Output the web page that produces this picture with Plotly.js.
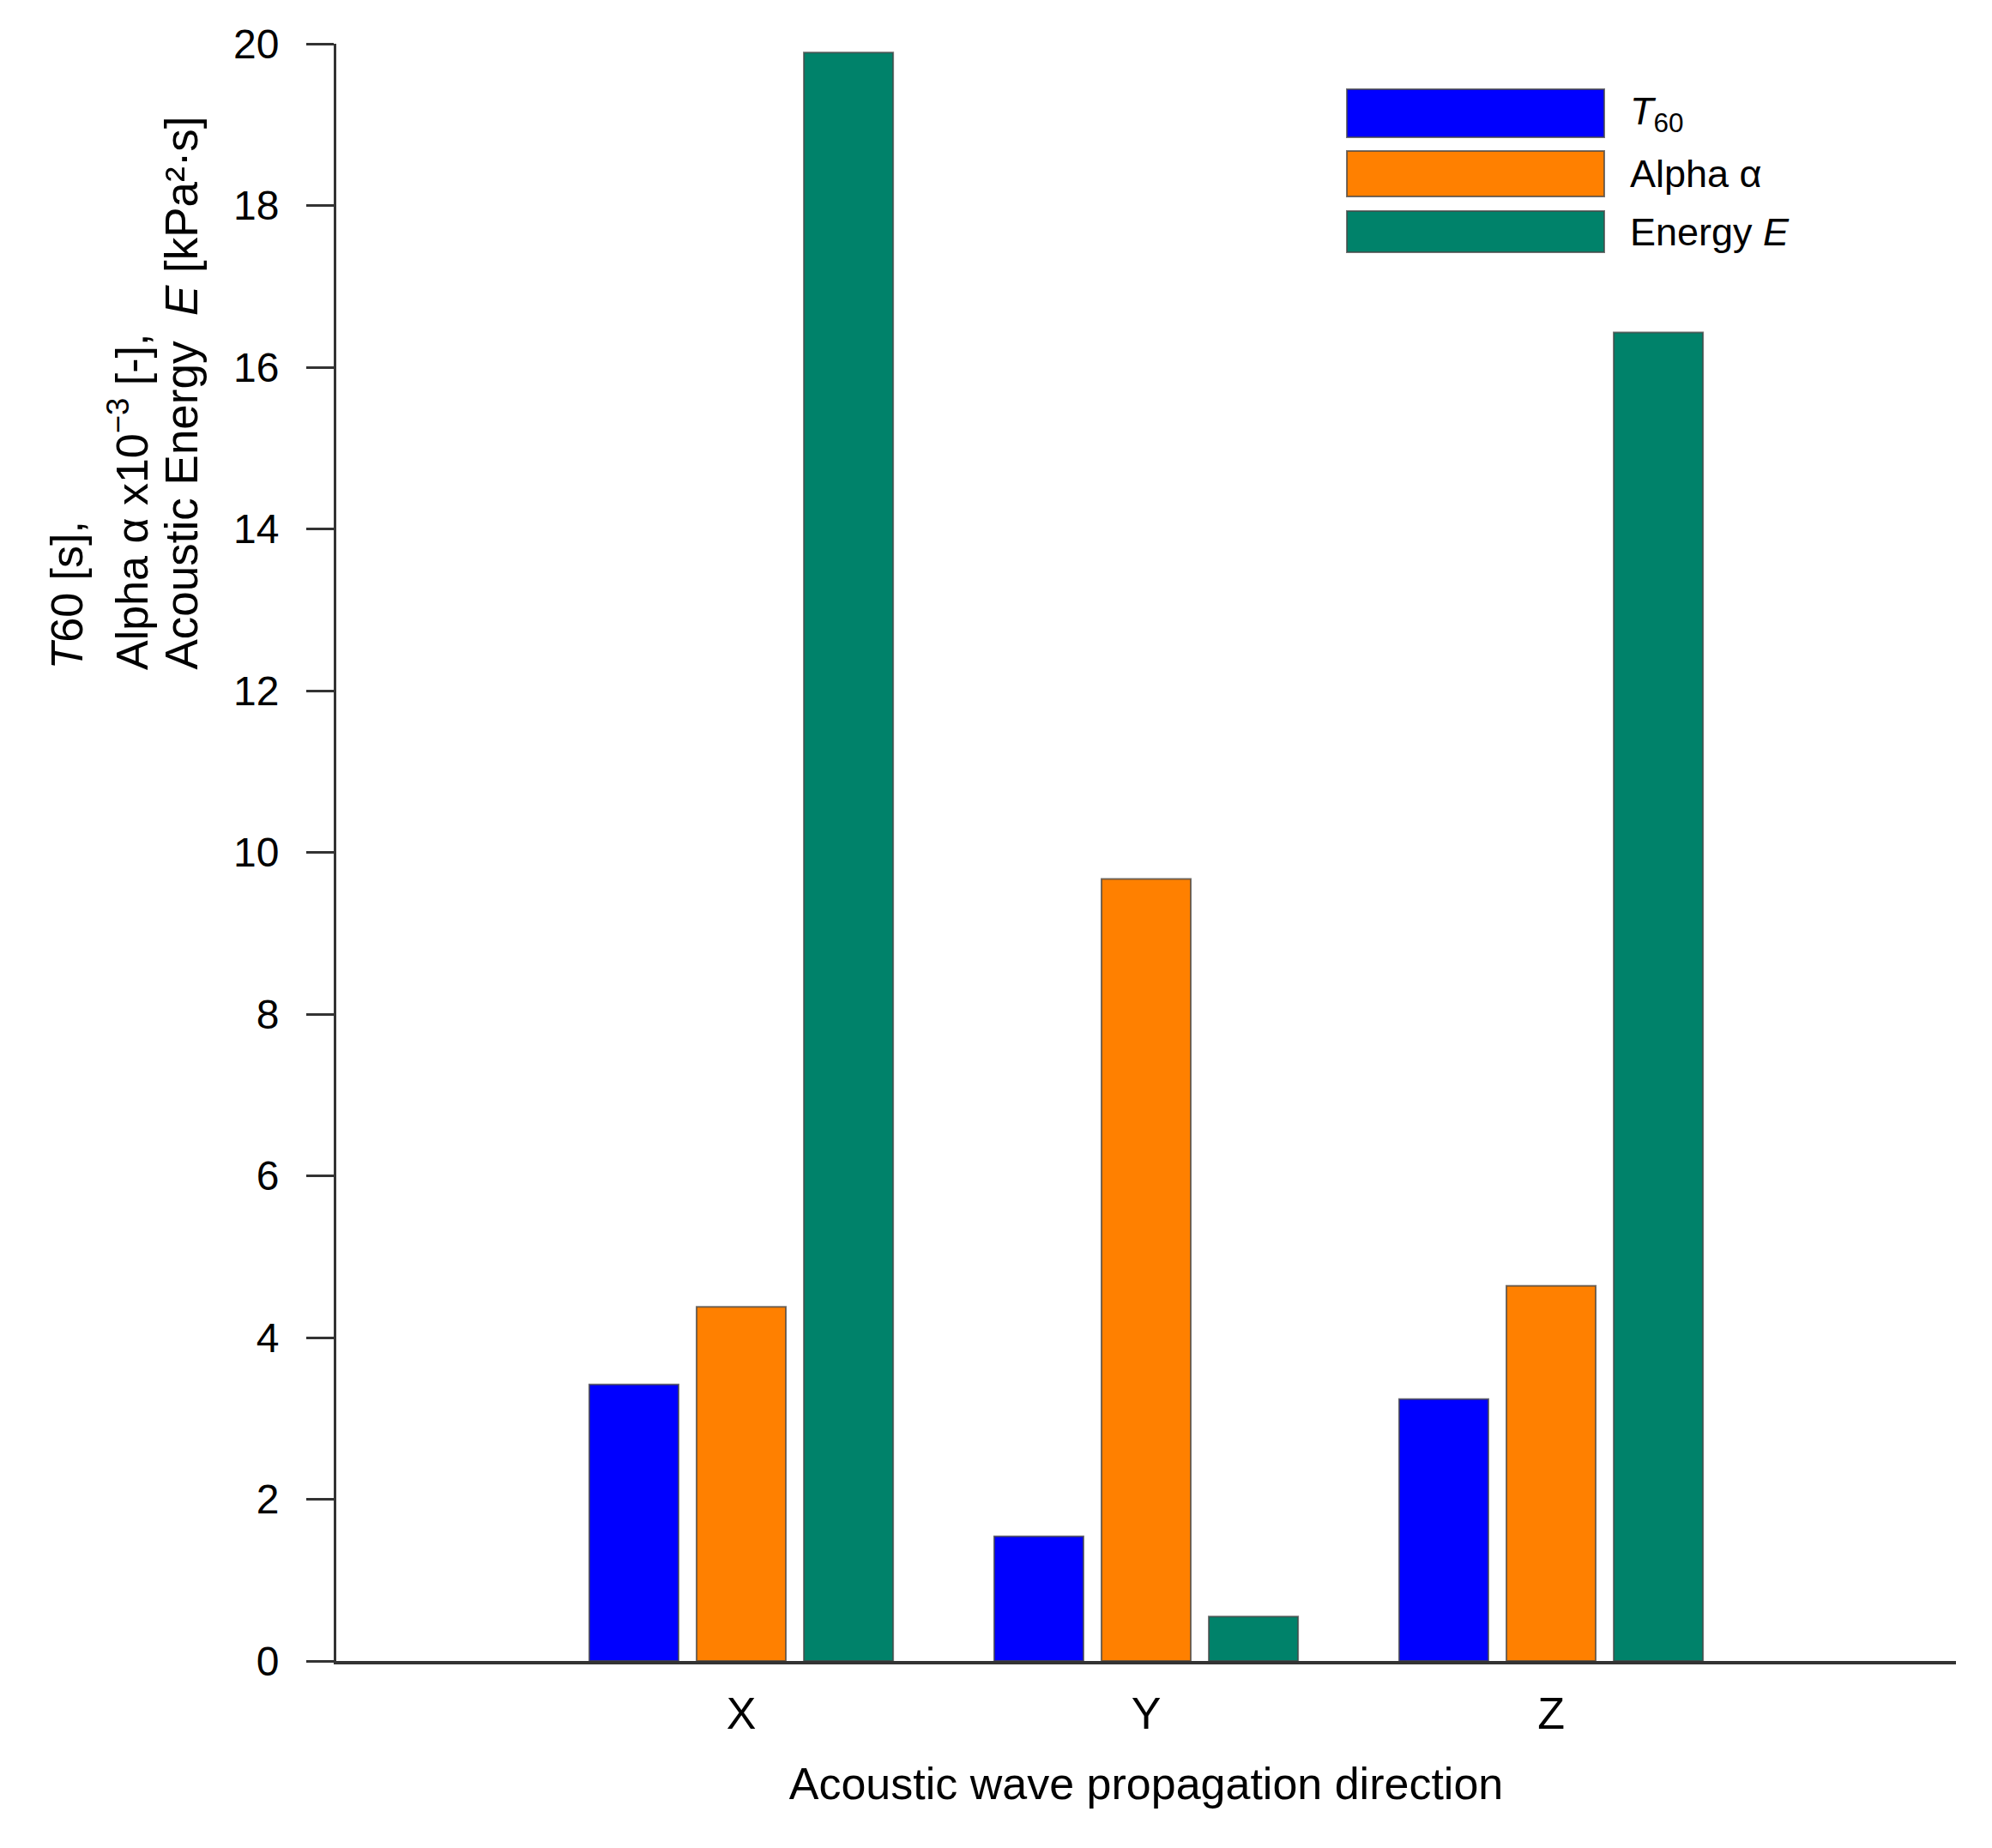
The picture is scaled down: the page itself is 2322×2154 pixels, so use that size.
<!DOCTYPE html>
<html>
<head>
<meta charset="utf-8">
<script src="https://cdn.plot.ly/plotly-3.0.1.min.js"></script>
<style>html,body{margin:0;padding:0;background:#fff;}#chart{width:2322px;height:2154px;}</style>
</head>
<body>
<div id="chart"></div>
<script>
// Data
const directions = ['X', 'Y', 'Z'];
const t60 = [3.42, 1.54, 3.24];
const alpha = [4.38, 9.67, 4.64];
const energy = [19.89, 0.55, 16.43];
const yTicks = [0, 2, 4, 6, 8, 10, 12, 14, 16, 18, 20];

const seriesNames = ['<i>T</i><sub>60</sub>', 'Alpha α', 'Energy <i>E</i>'];
const seriesColors = ['#0000FF', '#FF8000', '#00826A'];
const seriesValues = [t60, alpha, energy];

const FONT = 'Liberation Sans, Arial, Helvetica, sans-serif';

const traces = seriesValues.map((vals, i) => ({
  type: 'bar',
  x: directions,
  y: vals,
  name: seriesNames[i],
  marker: { color: seriesColors[i], line: { color: 'rgba(70,70,70,0.75)', width: 2 } },
  hoverinfo: 'x+y'
}));

// Legend drawn as shapes + annotations (large swatches)
const legX0 = (1570 - 392) / 1888, legX1 = (1870 - 392) / 1888;
const legRows = [[104, 160], [176, 229], [246, 294]];
const toPY = py => (1936 - py) / 1885;
const shapes = legRows.map((r, i) => ({
  type: 'rect', xref: 'paper', yref: 'paper',
  x0: legX0, x1: legX1, y0: toPY(r[1]), y1: toPY(r[0]),
  fillcolor: seriesColors[i], line: { color: 'rgba(70,70,70,0.75)', width: 2 }
}));
const annotations = legRows.map((r, i) => ({
  xref: 'paper', yref: 'paper', x: (1898 - 392) / 1888, y: toPY((r[0] + r[1]) / 2),
  xanchor: 'left', yanchor: 'middle', showarrow: false,
  text: seriesNames[i], font: { family: FONT, size: 45, color: '#000' }
}));

// Y axis title, three left-aligned rotated lines
const yTitleLines = [
  '<i>T</i>60 [s],',
  'Alpha α x10<sup>−3</sup> [-],',
  'Acoustic Energy  <i>E</i> [kPa²·s]'
];
const yTitleX = [77, 150, 211];
const yTitleSize = [52, 52, 53];
yTitleLines.forEach((t, i) => {
  annotations.push({
    xref: 'paper', yref: 'paper', x: (yTitleX[i] - 392) / 1888, y: toPY(783),
    xanchor: 'center', yanchor: 'bottom', textangle: -90, showarrow: false,
    text: t, font: { family: FONT, size: yTitleSize[i], color: '#000' }
  });
});

const layout = {
  width: 2322, height: 2154,
  margin: { l: 392, r: 42, t: 51, b: 218 },
  paper_bgcolor: '#fff', plot_bgcolor: '#fff',
  showlegend: false,
  barmode: 'group',
  bargap: 0.205,
  bargroupgap: 0.168,
  font: { family: FONT, color: '#000' },
  xaxis: {
    type: 'category',
    range: [-1, 3],
    showgrid: false, zeroline: false,
    showline: true, linecolor: '#333', linewidth: 4,
    ticks: '',
    ticklabelstandoff: 13,
    tickfont: { family: FONT, size: 52, color: '#000' },
    title: { text: 'Acoustic wave propagation direction', font: { family: FONT, size: 52, color: '#000' }, standoff: 36 }
  },
  yaxis: {
    range: [0, 20],
    tickvals: yTicks,
    ticktext: yTicks.map(String),
    showgrid: false, zeroline: false,
    showline: true, linecolor: '#333', linewidth: 3,
    ticks: 'outside', ticklen: 32, tickwidth: 3, tickcolor: '#333',
    ticklabelstandoff: 22,
    tickfont: { family: FONT, size: 48, color: '#000' }
  },
  shapes: shapes,
  annotations: annotations
};

Plotly.newPlot('chart', traces, layout, { displayModeBar: false, staticPlot: true });
</script>
</body>
</html>
